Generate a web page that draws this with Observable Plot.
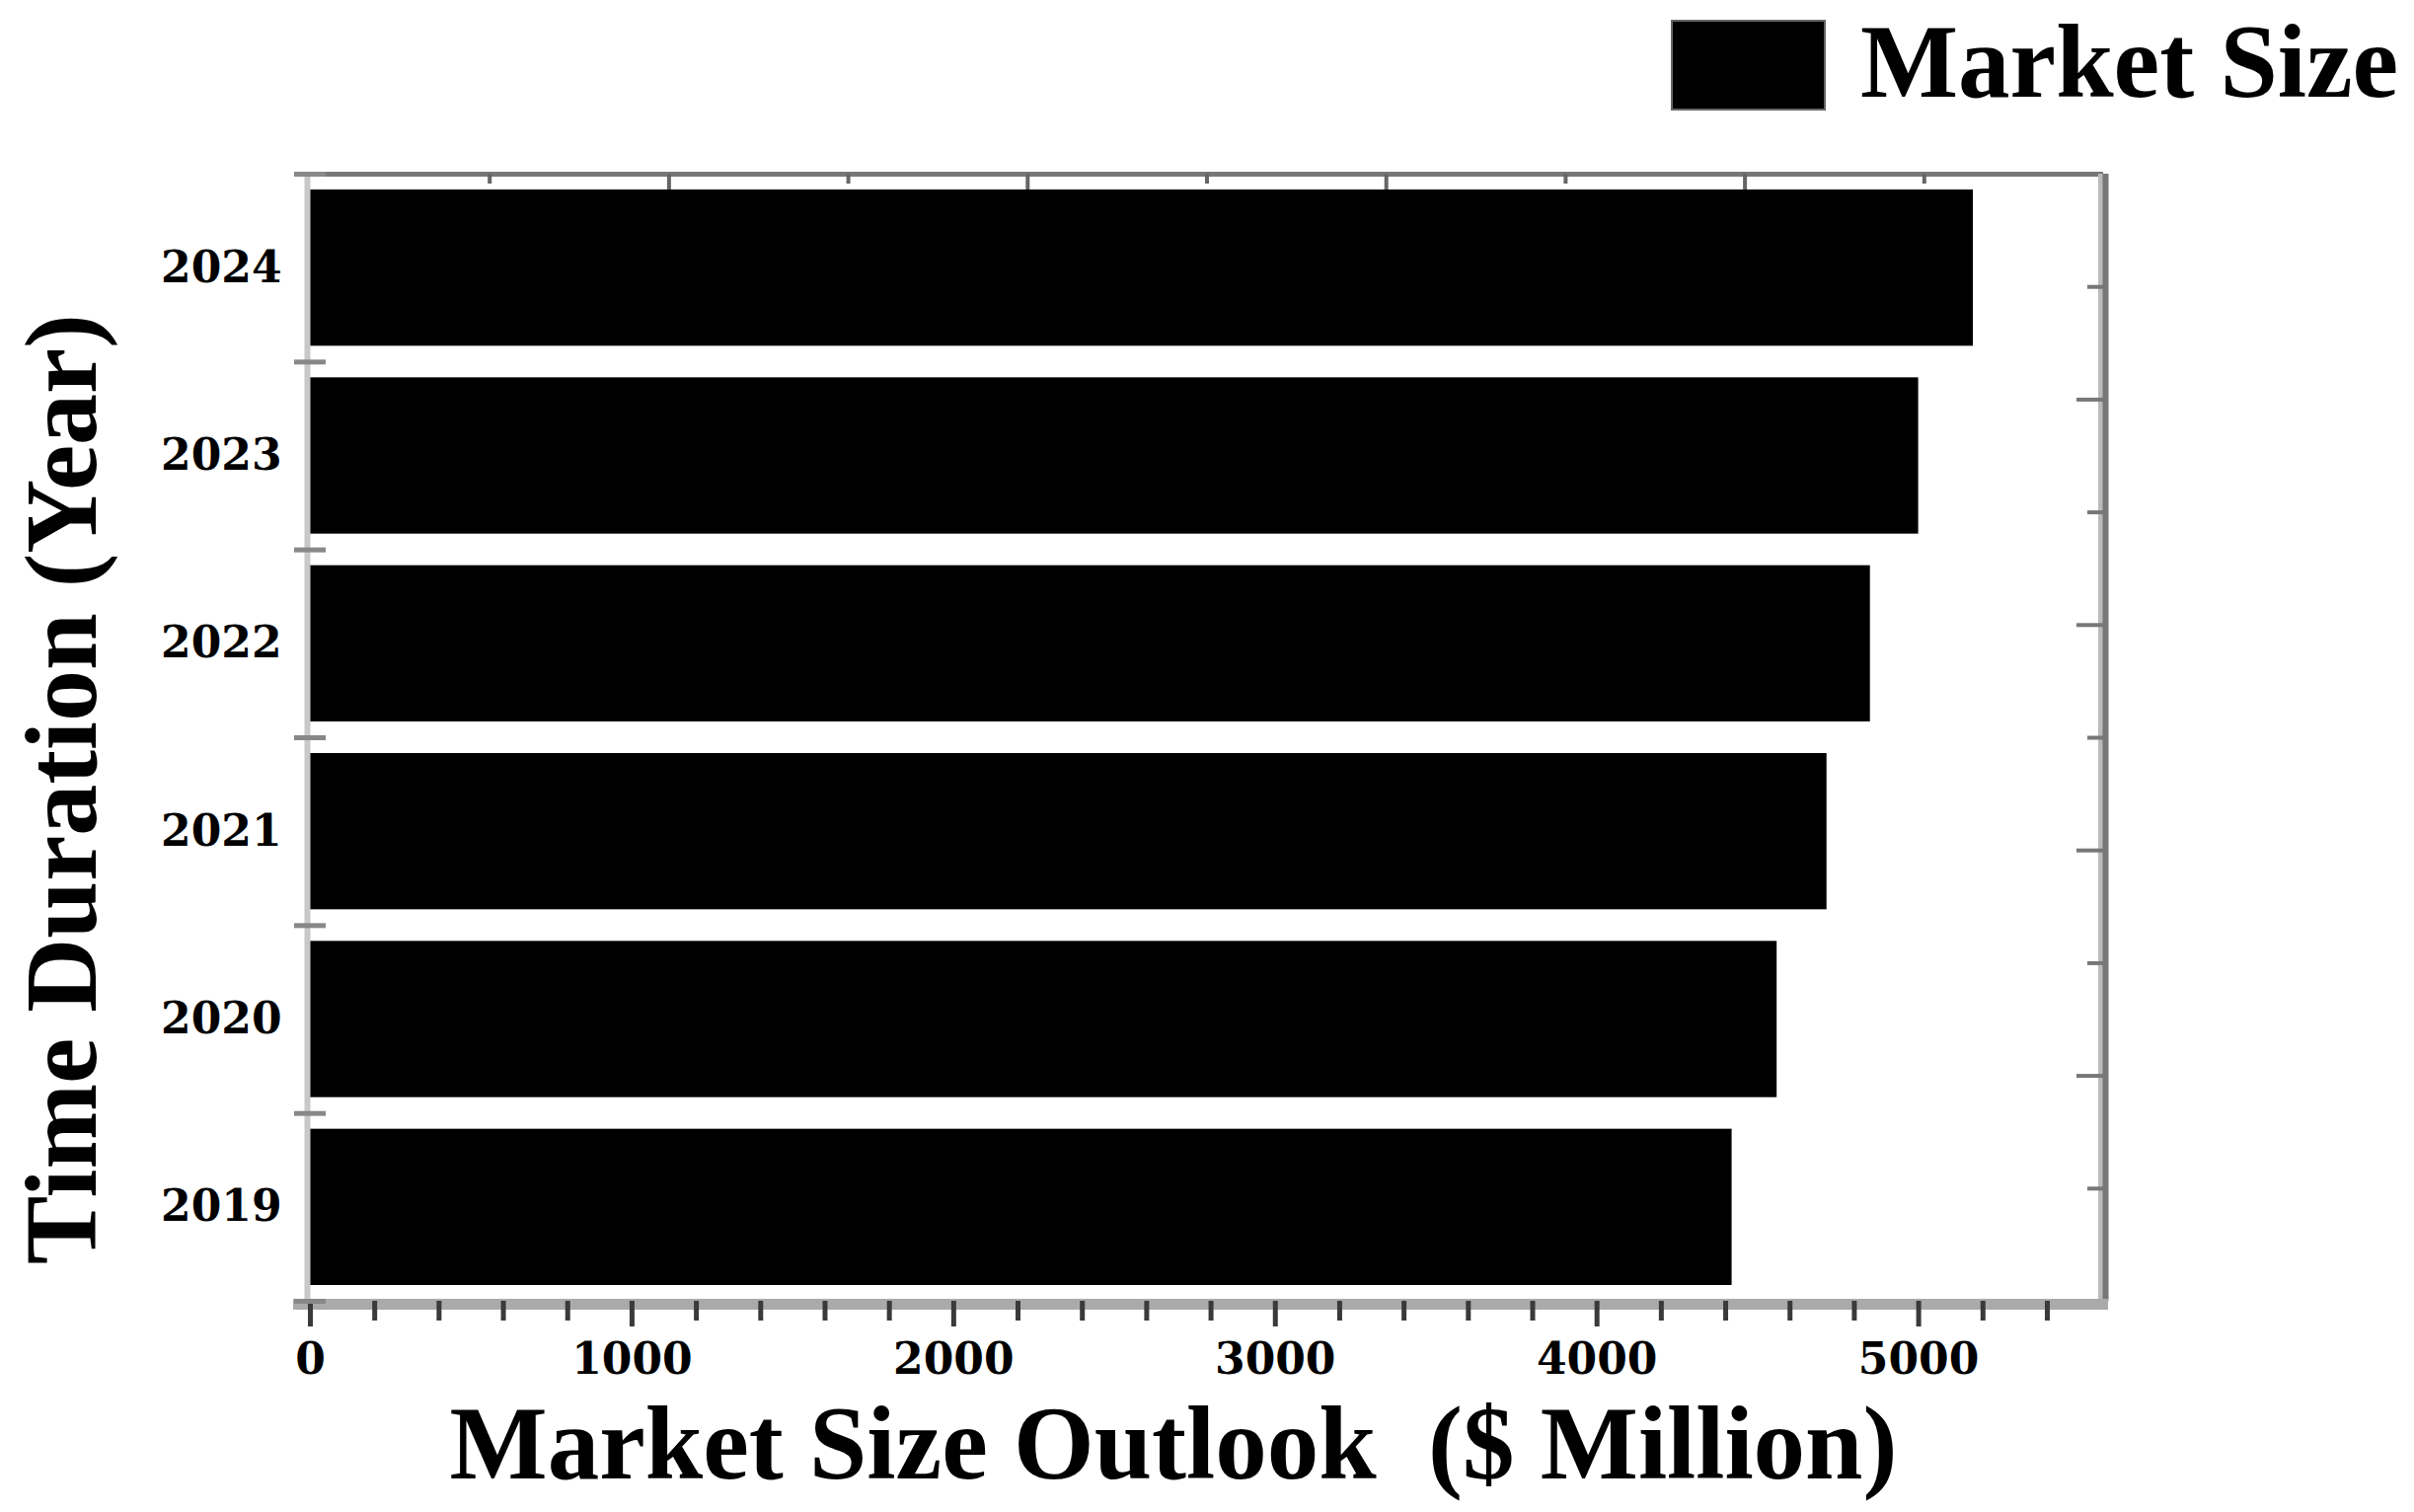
<!DOCTYPE html>
<html>
<head>
<meta charset="utf-8">
<script src="https://cdn.jsdelivr.net/npm/d3@7"></script>
<script src="https://cdn.jsdelivr.net/npm/@observablehq/plot@0.6"></script>
<style>
  html, body { margin: 0; padding: 0; background: #fff; }
  #wrap { width: 2446px; height: 1532px; position: relative; overflow: hidden; background: #fff; }
  #legend { position: relative; width: 2446px; height: 120px; }
  #legend .swatch { position: absolute; left: 1693px; top: 20px; width: 157px; height: 92px; background: #000; box-sizing: border-box; border: 2px solid #666; }
  #legend .lbl { position: absolute; left: 1885px; top: 10px; font: bold 105px/1 "Liberation Serif", "Times New Roman", serif; color: #000; white-space: nowrap; }
  svg { display: block; }
</style>
</head>
<body>
<div id="wrap">
  <div id="legend"><div class="swatch"></div><span class="lbl">Market Size</span></div>
  <div id="chart"></div>
</div>
<script>
// ---- data ----
const years = ["2019", "2020", "2021", "2022", "2023", "2024"];
const values = [4420, 4560, 4715, 4850, 5000, 5170];
const xTickLabels = [0, 1000, 2000, 3000, 4000, 5000];
const xMax = 5575;
const xTitle = "Market Size Outlook  ($ Million)";
const yTitle = "Time Duration (Year)";

// table built from the arrays
const table = years.map((year, i) => ({year, value: values[i], i, i2: i + 1}));

// tick positions
const minorTicks = d3.range(200, 5401, 200).filter(v => v % 1000 !== 0);
const bandEdges = d3.range(0, years.length + 1);
const yLabelTicks = years.map((_, i) => i + 0.5);
const topTicks = d3.range(1, 10).map(k => ({v: k * xMax / 10, long: k % 2 === 0}));
const rightTicks = d3.range(1, 10).map(k => ({v: years.length - k * years.length / 10, long: k % 2 === 0}));

const serifBold = {fontFamily: "DejaVu Serif", fontWeight: "bold", fontSize: 44, fill: "#000"};

const chart = Plot.plot({
  width: 2446,
  height: 1412,
  marginTop: 56,
  marginBottom: 214,
  marginLeft: 314,
  marginRight: 315,
  x: {domain: [0, xMax]},
  y: {domain: [0, years.length]},
  marks: [
    // bars
    Plot.rect(table, {x1: () => 0, x2: "value", y1: "i", y2: "i2", insetTop: 16, insetBottom: 16, fill: "#000"}),
    // left axis line
    Plot.ruleX([0], {stroke: "#c8c8c8", strokeWidth: 6, dx: -3}),
    // top frame line
    Plot.ruleY([years.length], {stroke: "#777", strokeWidth: 5}),
    // right frame line
    Plot.ruleX([xMax], {stroke: "#bbb", strokeWidth: 5, dx: -3}),
    Plot.ruleX([xMax], {stroke: "#777", strokeWidth: 6, dx: 2}),
    // bottom axis band
    Plot.ruleY([0], {stroke: "#aaa", strokeWidth: 11, dy: 3, insetLeft: -17, insetRight: -5}),
    // bottom ticks
    Plot.ruleX(xTickLabels, {x: d => d, y1: () => 0, y2: () => 0, insetBottom: -26, stroke: "#3a3a3a", strokeWidth: 5}),
    Plot.ruleX(minorTicks, {x: d => d, y1: () => 0, y2: () => 0, insetBottom: -20, stroke: "#3a3a3a", strokeWidth: 5}),
    // top ticks (inward)
    Plot.ruleX(topTicks.filter(d => d.long), {x: "v", y1: () => years.length, y2: () => years.length, insetBottom: -16, stroke: "#666", strokeWidth: 4}),
    Plot.ruleX(topTicks.filter(d => !d.long), {x: "v", y1: () => years.length, y2: () => years.length, insetBottom: -10, stroke: "#666", strokeWidth: 4}),
    // right ticks (inward)
    Plot.ruleY(rightTicks.filter(d => d.long), {y: "v", x1: () => xMax, x2: () => xMax, insetLeft: -27, stroke: "#777", strokeWidth: 4}),
    Plot.ruleY(rightTicks.filter(d => !d.long), {y: "v", x1: () => xMax, x2: () => xMax, insetLeft: -16, stroke: "#777", strokeWidth: 4}),
    // left band-edge ticks
    Plot.ruleY(bandEdges, {y: d => d, x1: () => 0, x2: () => 0, insetLeft: -16, insetRight: -16, stroke: "#888", strokeWidth: 5}),
    // tick labels
    Plot.axisX(xTickLabels, {anchor: "bottom", tickSize: 0, tickPadding: 42, tickFormat: d => String(d), label: null, ...serifBold}),
    Plot.axisY(yLabelTicks, {anchor: "left", tickSize: 0, tickPadding: 29, tickFormat: d => years[Math.floor(d)], label: null, ...serifBold}),
    // axis titles
    Plot.text([xTitle], {text: d => d, frameAnchor: "bottom", textAnchor: "middle", lineAnchor: "middle", dx: -34, dy: 146, fontSize: 105, fontWeight: "bold", fontFamily: "Liberation Serif", fill: "#000"}),
    Plot.text([yTitle], {text: d => d, frameAnchor: "left", textAnchor: "middle", lineAnchor: "middle", rotate: -90, dx: -251, dy: 52, fontSize: 104, fontWeight: "bold", fontFamily: "Liberation Serif", fill: "#000"})
  ]
});
document.getElementById("chart").appendChild(chart);
</script>
</body>
</html>
